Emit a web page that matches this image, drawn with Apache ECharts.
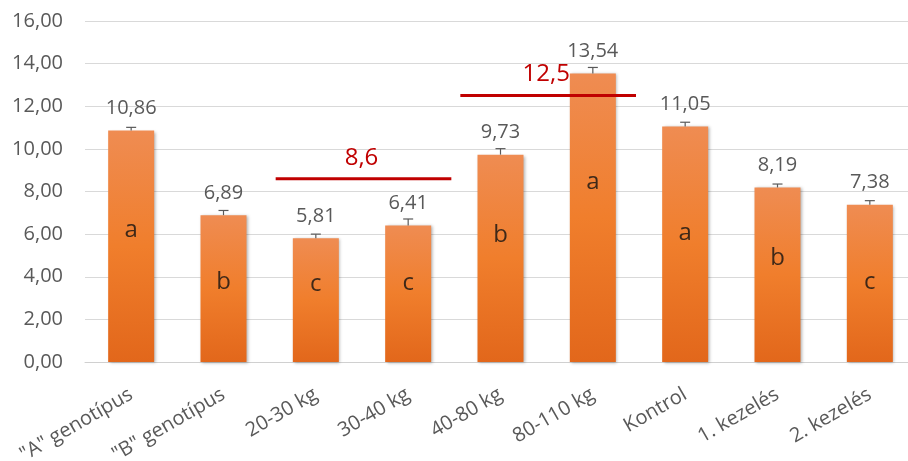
<!DOCTYPE html>
<html>
<head>
<meta charset="utf-8">
<script src="https://cdn.jsdelivr.net/npm/echarts@6/dist/echarts.min.js"></script>
<style>
  html, body { margin: 0; padding: 0; background: #fff; }
  #main { width: 908px; height: 461px; }
</style>
</head>
<body>
<div id="main"></div>
<script>
// chart data
var categories = ['"A" genotípus', '"B" genotípus', '20-30 kg', '30-40 kg', '40-80 kg', '80-110 kg', 'Kontrol', '1. kezelés', '2. kezelés'];
var means = [10.86, 6.89, 5.81, 6.41, 9.73, 13.54, 11.05, 8.19, 7.38];
var errors = [0.15, 0.22, 0.19, 0.3, 0.28, 0.28, 0.2, 0.16, 0.19];
var groupLetters = ['a', 'b', 'c', 'c', 'b', 'a', 'a', 'b', 'c'];
var letterLevels = [6.2, 3.75, 3.66, 3.7, 5.95, 8.45, 6.05, 4.88, 3.75];
var refStart = [2, 4];
var refEnd = [3, 5];
var refValues = [8.6, 12.5];
var yTicks = [0, 2, 4, 6, 8, 10, 12, 14, 16];

var font = '"Open Sans", "Liberation Sans", sans-serif';
var grey = '#595959';
var red = '#C00000';

function fmt(v, d) {
    return v.toFixed(d).replace('.', ',');
}

var myChart = echarts.init(document.getElementById('main'));

var option = {
    animation: false,
    grid: { left: 85, top: 21, bottom: 99, width: 831, outerBoundsMode: 'none', containLabel: false },
    xAxis: {
        type: 'category',
        data: categories,
        axisTick: { show: false },
        axisLine: { lineStyle: { color: '#D0D0D0', width: 1 } },
        axisLabel: {
            rotate: 30, margin: 31, color: grey,
            fontFamily: font, fontSize: 20, interval: 0
        }
    },
    yAxis: {
        type: 'value',
        min: yTicks[0],
        max: yTicks[yTicks.length - 1],
        interval: 2,
        axisLine: { show: false },
        axisTick: { show: false },
        splitLine: { lineStyle: { color: '#D9D9D9', width: 1 } },
        axisLabel: {
            margin: 22, color: grey, fontFamily: font, fontSize: 20,
            formatter: function (v) { return fmt(v, 2); }
        }
    },
    series: [
        {
            type: 'bar',
            data: means,
            barWidth: 46,
            itemStyle: {
                color: new echarts.graphic.LinearGradient(0, 0, 0, 1, [
                    { offset: 0, color: '#EF8C52' },
                    { offset: 0.5, color: '#F07E2C' },
                    { offset: 1, color: '#E2671B' }
                ]),
                shadowColor: 'rgba(0,0,0,0.3)',
                shadowBlur: 3,
                shadowOffsetX: 1.5,
                shadowOffsetY: 1
            },
            label: {
                show: true, position: 'top', distance: 12,
                color: grey, fontFamily: font, fontSize: 20,
                formatter: function (p) { return fmt(p.value, 2); }
            },
            z: 2
        },
        {
            // error bars (plus side)
            type: 'custom',
            data: means.map(function (m, i) { return [i, m, errors[i]]; }),
            renderItem: function (params, api) {
                var top = api.coord([api.value(0), api.value(1)]);
                var hi = api.coord([api.value(0), api.value(1) + api.value(2)]);
                var st = { stroke: '#595959', lineWidth: 1.2 };
                return {
                    type: 'group',
                    children: [
                        { type: 'line', shape: { x1: top[0], y1: top[1], x2: hi[0], y2: hi[1] }, style: st },
                        { type: 'line', shape: { x1: hi[0] - 5, y1: hi[1], x2: hi[0] + 5, y2: hi[1] }, style: st }
                    ]
                };
            },
            z: 3
        },
        {
            // significance letters inside bars
            type: 'scatter',
            data: letterLevels.map(function (v, i) { return [i, v]; }),
            symbolSize: 0,
            label: {
                show: true, position: 'inside', color: '#111',
                fontFamily: font, fontSize: 24,
                formatter: function (p) { return groupLetters[p.dataIndex]; }
            },
            z: 4
        },
        {
            // red reference lines
            type: 'custom',
            data: refValues.map(function (v, i) { return [refStart[i], refEnd[i], v]; }),
            renderItem: function (params, api) {
                var half = api.size([1, 0])[0] / 2;
                var a = api.coord([api.value(0), api.value(2)]);
                var b = api.coord([api.value(1), api.value(2)]);
                var x1 = a[0] - half + 6, x2 = b[0] + half - 3;
                return {
                    type: 'group',
                    children: [
                        { type: 'line', shape: { x1: x1, y1: a[1], x2: x2, y2: a[1] },
                          style: { stroke: red, lineWidth: 3 } },
                        { type: 'text', x: (x1 + x2) / 2 - 2, y: a[1] - 21,
                          style: { text: fmt(api.value(2), 1), fill: red, font: '24px ' + font,
                                   align: 'center', verticalAlign: 'middle' } }
                    ]
                };
            },
            z: 5
        }
    ]
};

myChart.setOption(option);
</script>
</body>
</html>
